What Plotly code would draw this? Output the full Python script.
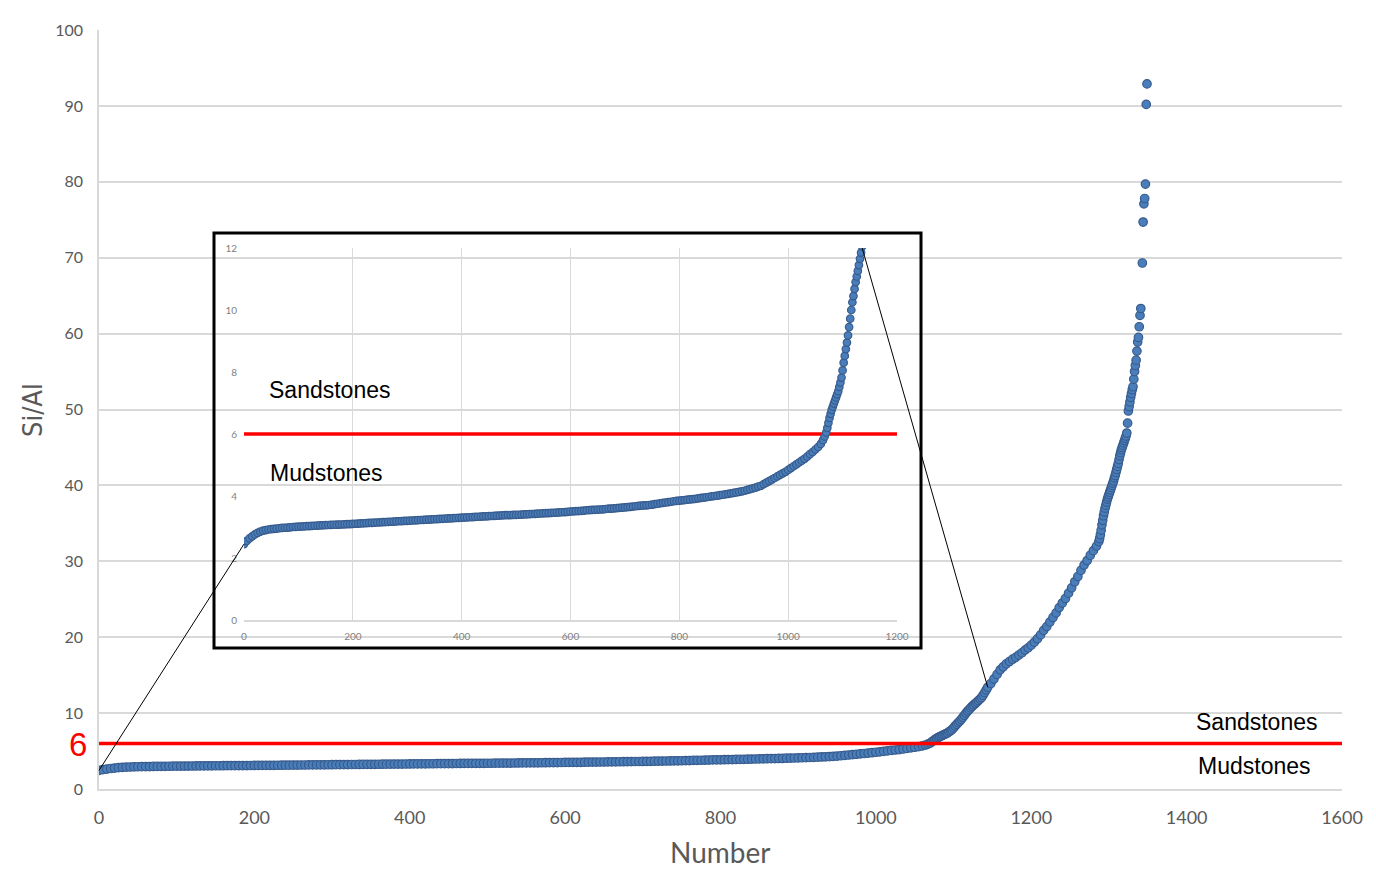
import plotly.graph_objects as go

# ---------------- data ----------------
# start of the sorted series
start_number = [0, 5, 10, 15, 20, 25, 30, 35]
start_si_al = [2.45, 2.55, 2.63, 2.70, 2.76, 2.81, 2.85, 2.88]

# long gentle (mudstone) part
flat_number = [
    40, 45, 50, 55, 60, 65, 70, 75, 80, 85, 90, 95,
    100, 105, 110, 115, 120, 125, 130, 135, 140, 145, 150, 155, 160, 165, 170, 175, 180, 185, 190, 195,
    200, 205, 210, 215, 220, 225, 230, 235, 240, 245, 250, 255, 260, 265, 270, 275, 280, 285, 290, 295,
    300, 305, 310, 315, 320, 325, 330, 335, 340, 345, 350, 355, 360, 365, 370, 375, 380, 385, 390, 395,
    400, 405, 410, 415, 420, 425, 430, 435, 440, 445, 450, 455, 460, 465, 470, 475, 480, 485, 490, 495,
    500, 505, 510, 515, 520, 525, 530, 535, 540, 545, 550, 555, 560, 565, 570, 575, 580, 585, 590, 595,
    600, 605, 610, 615, 620, 625, 630, 635, 640, 645, 650, 655, 660, 665, 670, 675, 680, 685, 690, 695,
    700, 705, 710, 715, 720, 725, 730, 735, 740, 745, 750, 755, 760, 765, 770, 775, 780, 785, 790, 795,
    800, 805, 810, 815, 820, 825, 830, 835, 840, 845, 850, 855, 860, 865, 870, 875, 880, 885, 890, 895,
    900, 905, 910, 915, 920, 925, 930, 935, 940, 945,
]
flat_si_al = [
    2.90, 2.92, 2.93, 2.94, 2.95, 2.96, 2.97, 2.975, 2.98, 2.99, 3.00, 3.005,
    3.01, 3.015, 3.02, 3.025, 3.03, 3.035, 3.04, 3.045, 3.05, 3.055, 3.06, 3.065, 3.07, 3.072, 3.075, 3.078, 3.08, 3.085, 3.09, 3.095,
    3.100, 3.105, 3.110, 3.115, 3.120, 3.125, 3.130, 3.135, 3.140, 3.145, 3.150, 3.155, 3.160, 3.165, 3.170, 3.175, 3.180, 3.185, 3.190, 3.195,
    3.200, 3.205, 3.210, 3.215, 3.220, 3.225, 3.230, 3.235, 3.240, 3.245, 3.250, 3.255, 3.260, 3.265, 3.270, 3.275, 3.280, 3.285, 3.290, 3.295,
    3.300, 3.305, 3.310, 3.315, 3.320, 3.325, 3.330, 3.335, 3.340, 3.345, 3.350, 3.355, 3.360, 3.365, 3.370, 3.375, 3.380, 3.383, 3.385, 3.388,
    3.390, 3.395, 3.400, 3.405, 3.410, 3.415, 3.420, 3.425, 3.430, 3.435, 3.440, 3.445, 3.450, 3.455, 3.460, 3.465, 3.470, 3.475, 3.480, 3.490,
    3.500, 3.505, 3.510, 3.515, 3.520, 3.530, 3.540, 3.545, 3.550, 3.555, 3.560, 3.565, 3.570, 3.580, 3.590, 3.595, 3.600, 3.610, 3.620, 3.625,
    3.630, 3.640, 3.650, 3.660, 3.670, 3.680, 3.690, 3.695, 3.700, 3.710, 3.720, 3.735, 3.750, 3.765, 3.780, 3.790, 3.800, 3.815, 3.830, 3.840,
    3.850, 3.860, 3.870, 3.880, 3.890, 3.900, 3.910, 3.925, 3.940, 3.950, 3.960, 3.975, 3.990, 4.000, 4.010, 4.025, 4.040, 4.055, 4.070, 4.085,
    4.100, 4.115, 4.130, 4.150, 4.170, 4.195, 4.220, 4.245, 4.270, 4.300,
]

# bend towards the threshold
bend_number = [950, 955, 960, 965, 970, 975, 980, 985, 990, 995,
               1000, 1005, 1010, 1015, 1020, 1025, 1030, 1035, 1040, 1045, 1050, 1055, 1060, 1064, 1067]
bend_si_al = [4.33, 4.38, 4.43, 4.48, 4.53, 4.58, 4.63, 4.68, 4.73, 4.78,
              4.84, 4.90, 4.96, 5.02, 5.08, 5.14, 5.20, 5.27, 5.35, 5.42, 5.50, 5.58, 5.68, 5.80, 5.92]

# steep (sandstone) part
steep_number = [
    1070, 1072, 1074, 1076, 1078, 1080, 1082, 1084, 1086, 1088,
    1090, 1092, 1094, 1096, 1098, 1100, 1102, 1104, 1106, 1108,
    1110, 1112, 1114, 1116, 1118, 1120, 1122, 1124, 1126, 1128,
    1130, 1132, 1134, 1136, 1138, 1140, 1142, 1144,
    1148, 1152, 1156, 1160, 1164, 1168, 1172, 1176, 1180, 1184, 1188, 1192, 1196,
    1200, 1204, 1208, 1212, 1216, 1220, 1224, 1228, 1232, 1236, 1240, 1244, 1248,
    1252, 1256, 1260, 1264, 1268, 1272, 1276, 1280, 1284,
    1287, 1288, 1289, 1290, 1291, 1292, 1293, 1294, 1295, 1296, 1297, 1298, 1299,
    1300, 1301, 1302, 1303, 1304, 1305, 1306, 1307, 1308, 1309, 1310, 1311, 1312,
    1313, 1314, 1315, 1316, 1317, 1318, 1319, 1320, 1321, 1322, 1323,
    1324, 1325, 1326, 1327, 1328, 1329, 1330, 1331, 1332, 1333, 1334,
    1335, 1336, 1337, 1338, 1339, 1340, 1341, 1343, 1344, 1345, 1346, 1347, 1348, 1349,
]
steep_si_al = [
    6.05, 6.20, 6.36, 6.52, 6.65, 6.78, 6.88, 6.98, 7.08, 7.18,
    7.28, 7.38, 7.52, 7.66, 7.82, 8.05, 8.30, 8.52, 8.74, 8.95,
    9.18, 9.45, 9.72, 10.0, 10.25, 10.45, 10.68, 10.90, 11.08, 11.26,
    11.45, 11.65, 11.85, 12.05, 12.35, 12.7, 13.05, 13.4,
    13.9, 14.5, 15.1, 15.7, 16.1, 16.5, 16.8, 17.1, 17.35, 17.65, 17.95, 18.3, 18.6,
    18.95, 19.35, 19.8, 20.3, 20.9, 21.4, 22.0, 22.6, 23.2, 23.9, 24.5, 25.1, 25.8,
    26.5, 27.3, 28.0, 28.8, 29.5, 30.1, 30.8, 31.4, 32.0,
    32.6, 33.0, 33.5, 34.1, 34.8, 35.4, 36.0, 36.5, 37.0, 37.4, 37.8, 38.2, 38.5,
    38.8, 39.1, 39.4, 39.7, 40.0, 40.3, 40.6, 41.0, 41.3, 41.7, 42.1, 42.5, 42.9,
    43.4, 43.9, 44.3, 44.7, 45.0, 45.3, 45.6, 45.9, 46.2, 46.5, 46.9,
    48.2, 49.8, 50.4, 51.0, 51.6, 52.1, 52.6, 53.0, 54.0, 55.0, 55.8,
    56.5, 57.7, 58.9, 59.5, 60.9, 62.4, 63.3, 69.3, 74.7, 77.1, 77.8, 79.7, 90.2, 92.9,
]

sample_number = start_number + flat_number + bend_number + steep_number
si_al = start_si_al + flat_si_al + bend_si_al + steep_si_al

threshold = 6
main_x_ticks = [0, 200, 400, 600, 800, 1000, 1200, 1400, 1600]
main_y_ticks = [0, 10, 20, 30, 40, 50, 60, 70, 80, 90, 100]
inset_x_ticks = [0, 200, 400, 600, 800, 1000, 1200]
inset_y_ticks = [0, 2, 4, 6, 8, 10, 12]
connector_top = (1136, 12)      # where the right connector leaves the inset
connector_main_idx = 1144       # where it meets the main curve

# ---------------- layout helpers ----------------
OFF = 8                       # page body margin
W, H = 1376 - OFF, 870 - OFF  # figure size
# plot area in page pixels
PL, PR, PT, PB = 99, 1342, 30, 789
ML, MR, MT, MB = PL - OFF, W - (PR - OFF), PT - OFF, H - (PB - OFF)
MAIN_X = (0, 1600)
MAIN_Y = (0, 100)
INS_X = (0, 1200)
INS_Y = (0, 12)
pw, ph = PR - PL, PB - PT


def px_x(p):   # page pixel x -> paper
    return (p - PL) / pw


def px_y(p):   # page pixel y -> paper
    return (PB - p) / ph


ins_dx = (px_x(244), px_x(897))
ins_dy = (px_y(620), px_y(248))


def main_to_paper(x, y):
    return (x - MAIN_X[0]) / (MAIN_X[1] - MAIN_X[0]), (y - MAIN_Y[0]) / (MAIN_Y[1] - MAIN_Y[0])


def inset_to_paper(x, y):
    fx = (x - INS_X[0]) / (INS_X[1] - INS_X[0])
    fy = (y - INS_Y[0]) / (INS_Y[1] - INS_Y[0])
    return ins_dx[0] + fx * (ins_dx[1] - ins_dx[0]), ins_dy[0] + fy * (ins_dy[1] - ins_dy[0])


GRAY = "#595959"
GRID = "#d9d9d9"
FILL = "#4A7EBB"
EDGE = "#375B8C"

fig = go.Figure()

fig.add_trace(go.Scatter(
    x=sample_number, y=si_al, mode="markers",
    marker=dict(size=8.5, color=FILL, line=dict(color=EDGE, width=1.2)),
    xaxis="x", yaxis="y", showlegend=False, hoverinfo="x+y"))
fig.add_trace(go.Scatter(
    x=[MAIN_X[0], MAIN_X[1]], y=[threshold, threshold], mode="lines",
    line=dict(color="#ff0000", width=3.5), xaxis="x", yaxis="y",
    showlegend=False, hoverinfo="skip"))

fig.add_trace(go.Scatter(
    x=[INS_X[0], INS_X[1]], y=[threshold, threshold], mode="lines",
    line=dict(color="#ff0000", width=3.5), xaxis="x2", yaxis="y2",
    showlegend=False, hoverinfo="skip"))
fig.add_trace(go.Scatter(
    x=sample_number, y=si_al, mode="markers",
    marker=dict(size=7.5, color=FILL, line=dict(color=EDGE, width=1.2)),
    xaxis="x2", yaxis="y2", showlegend=False, hoverinfo="x+y"))

tickfont_main_x = dict(family="Lato, Open Sans, sans-serif", size=18, color=GRAY)
tickfont_main_y = dict(family="Lato, Open Sans, sans-serif", size=16, color=GRAY)
tickfont_ins = dict(family="Lato, Open Sans, sans-serif", size=10, color="#7f7f7f")

fig.update_layout(
    width=W, height=H,
    margin=dict(l=ML, r=MR, t=MT, b=MB),
    paper_bgcolor="white", plot_bgcolor="rgba(0,0,0,0)",
    xaxis=dict(domain=[0, 1], range=list(MAIN_X), tickvals=main_x_ticks,
               showgrid=False, zeroline=False, showline=True, linecolor=GRID, linewidth=1.5,
               ticks="", tickfont=tickfont_main_x, ticklabelstandoff=12, anchor="y"),
    yaxis=dict(domain=[0, 1], range=list(MAIN_Y), tickvals=main_y_ticks,
               showgrid=True, gridcolor=GRID, gridwidth=1.5, zeroline=False,
               showline=True, linecolor=GRID, linewidth=1.5,
               ticks="", tickfont=tickfont_main_y, ticklabelstandoff=11, anchor="x"),
    xaxis2=dict(domain=list(ins_dx), range=list(INS_X), tickvals=inset_x_ticks,
                showgrid=True, gridcolor=GRID, gridwidth=1, zeroline=False,
                showline=True, linecolor=GRID, linewidth=1.5,
                ticks="", tickfont=tickfont_ins, ticklabelstandoff=6, anchor="y2"),
    yaxis2=dict(domain=list(ins_dy), range=list(INS_Y), tickvals=inset_y_ticks,
                showgrid=False, zeroline=False, showline=False,
                ticks="", tickfont=tickfont_ins, ticklabelstandoff=6, anchor="x2"),
)

# inset frame
fig.add_shape(type="rect", xref="paper", yref="paper",
              x0=px_x(214), x1=px_x(921), y0=px_y(648), y1=px_y(233),
              line=dict(color="black", width=3), fillcolor="rgba(0,0,0,0)", layer="above")

# left border line of the picture
fig.add_shape(type="line", xref="paper", yref="paper",
              x0=px_x(7), x1=px_x(7), y0=px_y(862), y1=px_y(2),
              line=dict(color="#bfbfbf", width=1))

# connectors
p1 = main_to_paper(sample_number[0], si_al[0])
p2 = inset_to_paper(sample_number[0], si_al[0])
fig.add_shape(type="line", xref="paper", yref="paper", x0=p1[0], y0=p1[1], x1=p2[0], y1=p2[1],
              line=dict(color="black", width=1), layer="above")
k = sample_number.index(connector_main_idx)
p3 = inset_to_paper(*connector_top)
p4 = main_to_paper(sample_number[k], si_al[k])
fig.add_shape(type="line", xref="paper", yref="paper", x0=p3[0], y0=p3[1], x1=p4[0], y1=p4[1],
              line=dict(color="black", width=1), layer="above")

txt = dict(family="Liberation Sans, Arial, sans-serif", size=23, color="black")
fig.add_annotation(x=1490, y=8.8, xref="x", yref="y", text="Sandstones", showarrow=False, font=txt)
fig.add_annotation(x=1488, y=3.0, xref="x", yref="y", text="Mudstones", showarrow=False, font=txt)
fig.add_annotation(x=158, y=7.42, xref="x2", yref="y2", text="Sandstones", showarrow=False, font=txt)
fig.add_annotation(x=152, y=4.74, xref="x2", yref="y2", text="Mudstones", showarrow=False, font=txt)

fig.add_annotation(x=px_x(89), y=threshold - 0.2, xref="paper", yref="y", text="6",
                   showarrow=False, xanchor="right", yanchor="middle",
                   font=dict(family="Liberation Sans, Arial, sans-serif", size=33, color="#ff0000"))

fig.add_annotation(x=px_x(33), y=px_y(410), xref="paper", yref="paper",
                   text="Si/Al", showarrow=False, textangle=-90, xanchor="center", yanchor="middle",
                   font=dict(family="Liberation Sans Narrow, DejaVu Sans Condensed, sans-serif",
                             size=27, color=GRAY))
fig.add_annotation(x=px_x(720), y=px_y(852), xref="paper", yref="paper",
                   text="Number", showarrow=False, xanchor="center", yanchor="middle",
                   font=dict(family="Lato, Open Sans, sans-serif", size=28, color=GRAY))

fig.write_html("out.html")
